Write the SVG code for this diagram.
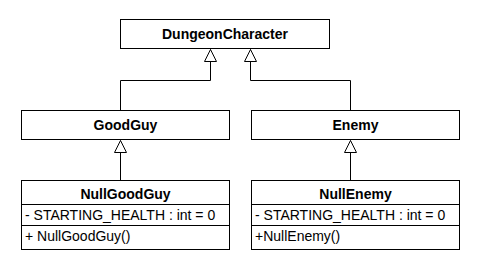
<svg xmlns="http://www.w3.org/2000/svg" width="480" height="270" viewBox="0 0 480 270">
  <style>
    .box { fill: #ffffff; stroke: #000000; stroke-width: 1; }
    .line { fill: none; stroke: #000000; stroke-width: 1; }
    .title { font-family: "Liberation Sans", Arial, sans-serif; font-size: 14px; font-weight: bold; text-anchor: middle; fill: #000000; }
    .member { font-family: "Liberation Sans", Arial, sans-serif; font-size: 14px; fill: #000000; }
  </style>
  <defs>
    <marker id="inherit" viewBox="0 0 14 14" refX="13" refY="7" markerWidth="14" markerHeight="14" markerUnits="userSpaceOnUse" orient="auto">
      <path d="M1,1 L13,7 L1,13 Z" fill="#ffffff" stroke="#000000" stroke-width="1"/>
    </marker>
  </defs>
  <rect width="480" height="270" fill="#ffffff"/>

  <g id="connectors">
    <path class="line" d="M120.5,110.5 V80.5 H210.5 V49.5" marker-end="url(#inherit)"/>
    <path class="line" d="M350.5,110.5 V80.5 H250.5 V49.5" marker-end="url(#inherit)"/>
    <path class="line" d="M120.5,180.5 V140.5" marker-end="url(#inherit)"/>
    <path class="line" d="M350.5,180.5 V140.5" marker-end="url(#inherit)"/>
  </g>

  <g id="DungeonCharacter">
    <rect class="box" x="120.5" y="19.5" width="209" height="29"/>
    <text class="title" x="225" y="39">DungeonCharacter</text>
  </g>

  <g id="GoodGuy">
    <rect class="box" x="21.5" y="110.5" width="208" height="29"/>
    <text class="title" x="125.5" y="129.5">GoodGuy</text>
  </g>

  <g id="Enemy">
    <rect class="box" x="251.5" y="110.5" width="208" height="29"/>
    <text class="title" x="355.5" y="129.5">Enemy</text>
  </g>

  <g id="NullGoodGuy">
    <rect class="box" x="21.5" y="180.5" width="208" height="69"/>
    <line class="line" x1="21.5" y1="204.5" x2="229.5" y2="204.5"/>
    <line class="line" x1="21.5" y1="225.5" x2="229.5" y2="225.5"/>
    <text class="title" x="125.5" y="199">NullGoodGuy</text>
    <text class="member" x="25" y="219.5">- STARTING_HEALTH : int = 0</text>
    <text class="member" x="25" y="240.5">+ NullGoodGuy()</text>
  </g>

  <g id="NullEnemy">
    <rect class="box" x="251.5" y="180.5" width="208" height="69"/>
    <line class="line" x1="251.5" y1="204.5" x2="459.5" y2="204.5"/>
    <line class="line" x1="251.5" y1="225.5" x2="459.5" y2="225.5"/>
    <text class="title" x="355.5" y="199">NullEnemy</text>
    <text class="member" x="255" y="219.5">- STARTING_HEALTH : int = 0</text>
    <text class="member" x="255" y="240.5">+NullEnemy()</text>
  </g>
</svg>
